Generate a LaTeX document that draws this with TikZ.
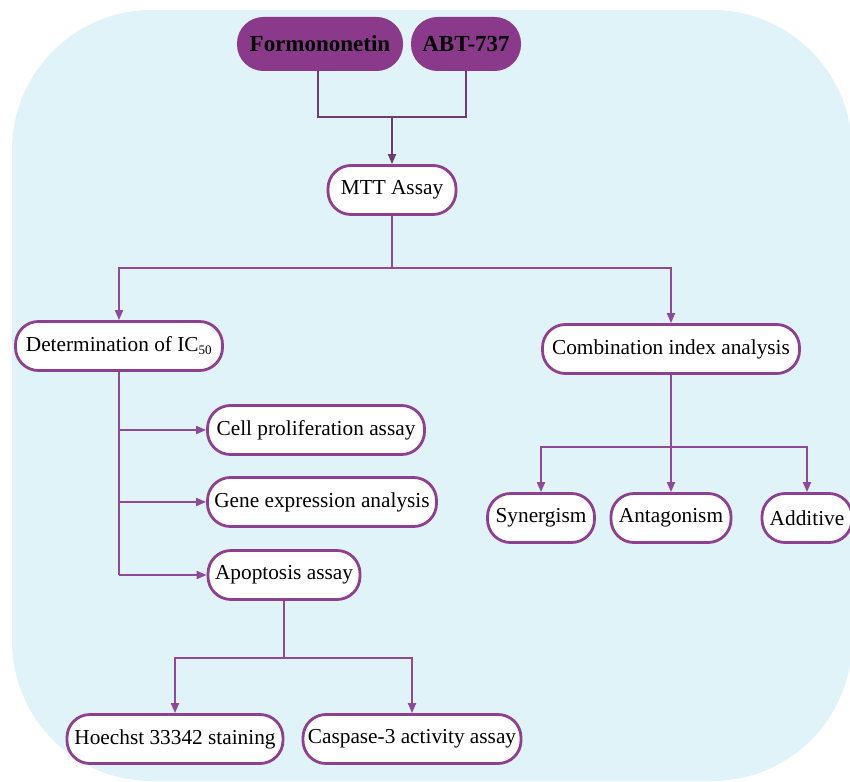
\documentclass[tikz,border=0pt]{standalone}
\usepackage{fontspec}
\setmainfont{Liberation Serif}
\usetikzlibrary{arrows.meta}
\definecolor{bgblue}{HTML}{DFF3F8}
\definecolor{pborder}{HTML}{8E3F90}
\definecolor{pfill}{HTML}{8B3A8B}
\definecolor{pline}{HTML}{90499A}
\definecolor{dline}{HTML}{6E3C70}
\tikzset{
  box/.style={draw=pborder, line width=2.8pt, fill=white, rounded corners=23pt,
    minimum height=49pt, inner sep=1pt, font=\fontsize{21.3}{23}\selectfont},
  topbox/.style={draw=pfill, line width=1pt, fill=pfill, rounded corners=26pt,
    minimum height=53pt, inner sep=1pt, font=\fontsize{23}{25}\selectfont\bfseries},
  conn/.style={draw=pline, line width=1.8pt},
  arr/.style={conn, -{Triangle[length=10pt,width=8pt]}},
  darr/.style={draw=dline, line width=1.8pt, -{Triangle[length=10pt,width=8pt]}},
}
\begin{document}
\begin{tikzpicture}[x=1pt,y=-1pt]
\useasboundingbox (0,0) rectangle (850,781);
\fill[bgblue, rounded corners=140pt] (12,10) rectangle (852,781);

\node[topbox, minimum width=165pt] (form) at (320,44) {Formononetin};
\node[topbox, minimum width=109pt] (abt) at (466,44) {ABT-737};
\node[box, minimum width=128pt] (mtt) at (392,190) {MTT Assay};
\node[box, minimum width=207pt] (det) at (119,346) {Determination of IC\textsubscript{\fontsize{13}{14}\selectfont 50}};
\node[box, minimum width=257pt] (comb) at (671,349) {Combination index analysis};
\node[box, minimum width=217pt] (cell) at (316,430) {Cell proliferation assay};
\node[box, minimum width=229pt] (gene) at (322,502) {Gene expression analysis};
\node[box, minimum width=152pt] (apo) at (284,575) {Apoptosis assay};
\node[box, minimum width=216pt] (hoe) at (175,739) {Hoechst 33342 staining};
\node[box, minimum width=218pt] (cas) at (412,739) {Caspase-3 activity assay};
\node[box, minimum width=107pt] (syn) at (541,518) {Synergism};
\node[box, minimum width=120pt] (ant) at (671,518) {Antagonism};
\node[box, minimum width=90pt] (add) at (807,518) {Additive};

% top join
\draw[draw=dline, line width=1.8pt] (form.south -| 318,0) |- (392,117) coordinate (tj) -| (abt.south);
\draw[darr] (tj) -- (mtt.north);

% MTT branches
\draw[conn] (mtt.south) -- (392,268) coordinate (mj);
\draw[arr] (mj) -| (det.north);
\draw[arr] (mj) -| (comb.north);

% Determination branch
\draw[conn] (det.south) -- (det.south |- apo.west);
\draw[arr] (det.south |- cell.west) -- (cell.west);
\draw[arr] (det.south |- gene.west) -- (gene.west);
\draw[arr] (det.south |- apo.west) -- (apo.west);

% Apoptosis branch
\draw[conn] (apo.south) -- (284,658) coordinate (aj);
\draw[arr] (aj) -| (hoe.north);
\draw[arr] (aj) -| (cas.north);

% Combination branch
\draw[conn] (comb.south) -- (671,447) coordinate (cj);
\draw[arr] (cj) -| (syn.north);
\draw[arr] (cj) -- (ant.north);
\draw[arr] (cj) -| (add.north);
\end{tikzpicture}
\end{document}
